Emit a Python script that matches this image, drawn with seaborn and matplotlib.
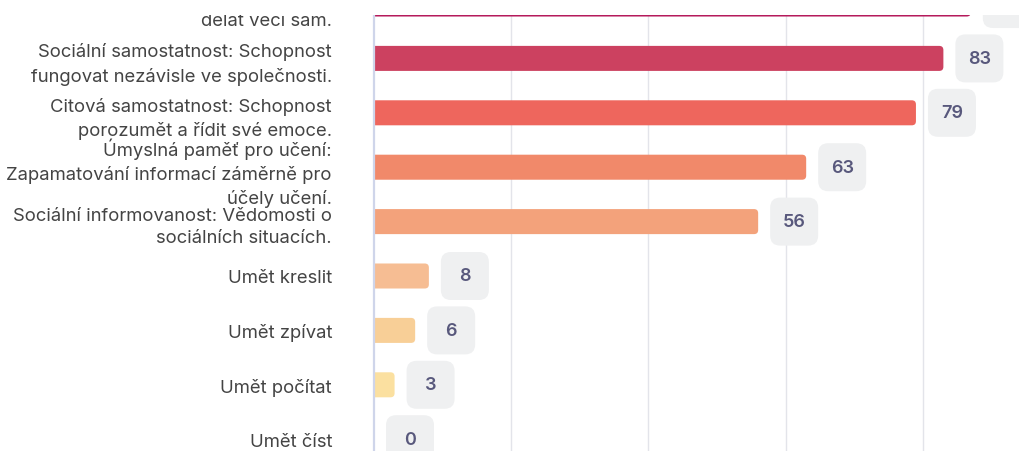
import numpy as np
import pandas as pd
import matplotlib
matplotlib.use("Agg")
import matplotlib.pyplot as plt
import matplotlib.transforms as mtransforms
from matplotlib.patches import FancyBboxPatch, Rectangle
import seaborn as sns

# data
labels = [
    "Praktická samostatnost: Schopnost\ndělat věci sám.",
    "Sociální samostatnost: Schopnost\nfungovat nezávisle ve společnosti.",
    "Citová samostatnost: Schopnost\nporozumět a řídit své emoce.",
    "Úmyslná paměť pro učení:\nZapamatování informací záměrně pro\núčely učení.",
    "Sociální informovanost: Vědomosti o\nsociálních situacích.",
    "Umět kreslit",
    "Umět zpívat",
    "Umět počítat",
    "Umět číst",
]
values = [87, 83, 79, 63, 56, 8, 6, 3, 0]
colors = ["#B51A5B", "#CC4160", "#EE665D", "#F1896A", "#F3A27B",
          "#F6BD93", "#F8CF97", "#FBE0A0", "#FCE9B5"]

sns.set_theme(style="white")
plt.rcParams["font.family"] = ["Inter", "DejaVu Sans"]

df = pd.DataFrame({"label": labels, "value": values})

fig = plt.figure(figsize=(10.19, 4.52), dpi=100)
ax = fig.add_axes([374 / 1019, 0, 1 - 374 / 1019, 1])

sns.barplot(data=df, x="value", y="label", hue="label", palette=colors,
            orient="h", width=0.46, saturation=1, legend=False, ax=ax)

ax.set_xlim(0, (1019 - 374) / 6.86)
ax.set_ylim(8.217, -0.092)

# swap the plain bars for bars with rounded ends (left end is clipped by xlim)
aspect = (4 / 54.4) / (4 / 6.86)
for p in list(ax.patches):
    x0, y0 = p.get_x(), p.get_y()
    w, h = p.get_width(), p.get_height()
    fc = p.get_facecolor()
    p.remove()
    if w <= 0:
        continue
    ax.add_patch(FancyBboxPatch((x0 - 1.5, y0), w + 1.5, h,
                                boxstyle="round,pad=0,rounding_size=0.6",
                                mutation_aspect=aspect, fc=fc, ec="none",
                                zorder=2))

# grid
ax.set_xticks([20, 40, 60, 80])
ax.tick_params(axis="x", length=0, labelbottom=False)
ax.grid(axis="x", color="#e3e4ea", lw=1)
ax.set_axisbelow(True)

for s in ["top", "right", "bottom"]:
    ax.spines[s].set_visible(False)
ax.spines["left"].set_color("#cfd5ea")
ax.spines["left"].set_linewidth(1.6)
ax.spines["left"].set_zorder(3.5)

ax.set_xlabel("")
ax.set_ylabel("")
ax.tick_params(axis="y", length=0, pad=42 * 0.72, labelsize=13.3,
               labelcolor="#444444")
for t in ax.get_yticklabels():
    t.set_linespacing(1.45)

# value boxes
for i, v in enumerate(values):
    tr = fig.dpi_scale_trans + mtransforms.ScaledTranslation(v, i, ax.transData)
    box = FancyBboxPatch((0.12 + 0.06, -0.24 + 0.06), 0.48 - 0.12, 0.48 - 0.12,
                         boxstyle="round,pad=0.06,rounding_size=0.1",
                         fc="#eff0f1", ec="none", transform=tr,
                         clip_on=False, zorder=4)
    ax.add_patch(box)
    ax.annotate(str(v), xy=(v, i), xytext=(36 * 0.72, 0),
                textcoords="offset points", ha="center", va="center",
                fontsize=13, fontweight="semibold", color="#58587c",
                zorder=5, annotation_clip=False)

# the view is scrolled: the strip above the chart is hidden
fig.patches.append(Rectangle((0, 1 - 16 / 452), 1, 16 / 452, fc="white",
                             ec="none", transform=fig.transFigure, zorder=10))

fig.savefig("out.png", dpi=100)
